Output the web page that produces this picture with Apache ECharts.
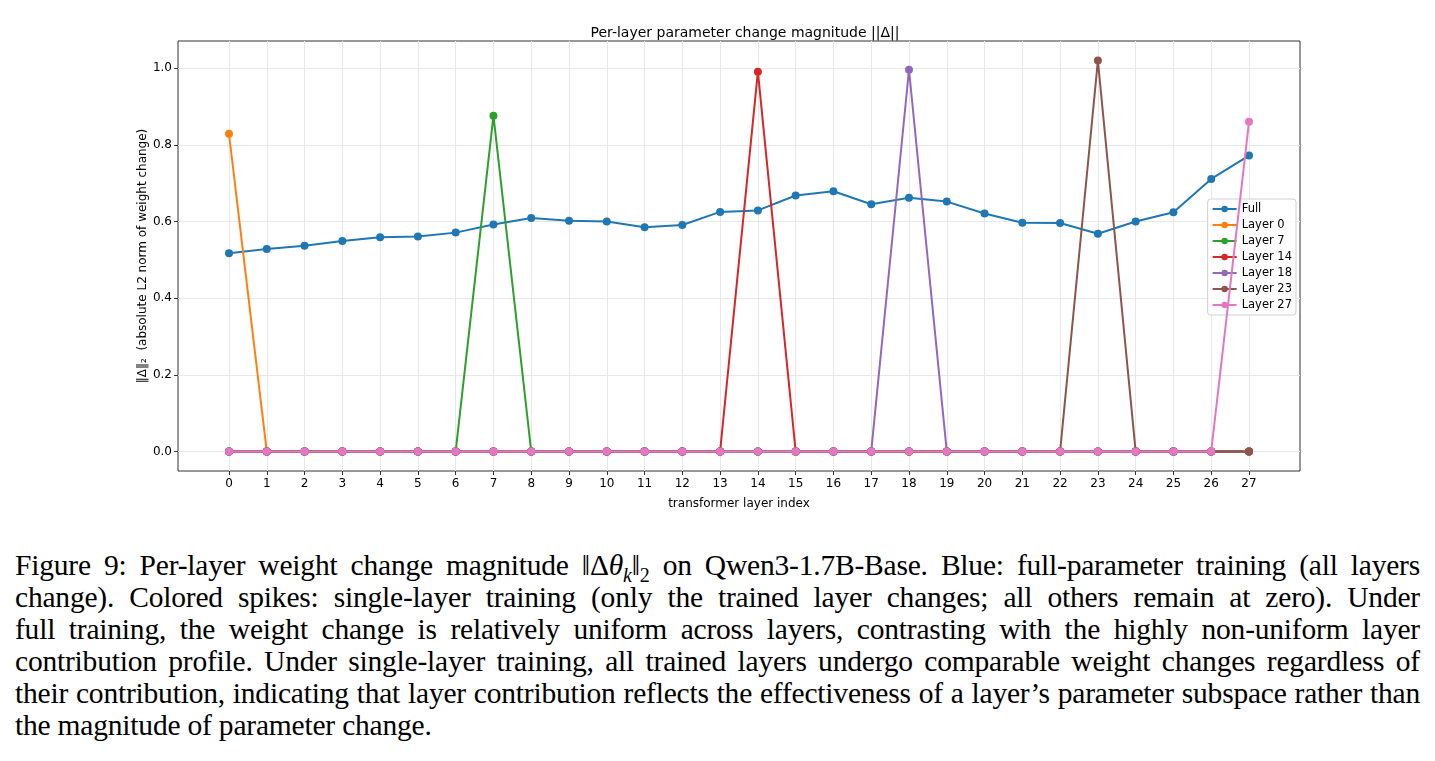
<!DOCTYPE html>
<html>
<head>
<meta charset="utf-8">
<script src="https://cdn.jsdelivr.net/npm/echarts@6/dist/echarts.min.js"></script>
<style>
	body { margin: 0; background: #fff; }
	#chart { position: absolute; left: 0; top: 0; width: 1435px; height: 530px; }
	.caption {
		position: absolute; left: 15px; top: 549px; width: 1405px;
		font-family: "Liberation Serif", "Times New Roman", serif;
		font-size: 29.5px; line-height: 32px; color: #000; letter-spacing: -0.2px;
	}
	.caption .ln { text-align: justify; text-align-last: justify; white-space: nowrap; }
	.caption .ln.last { text-align-last: left; }
	.caption sub { font-size: 20px; line-height: 0; }
</style>
</head>
<body>
<div id="chart"></div>
<div class="caption">
	<div class="ln">Figure 9: Per-layer weight change magnitude ‖Δ<i>θ</i><sub><i>k</i></sub>‖<sub>2</sub> on Qwen3-1.7B-Base. Blue: full-parameter training (all layers</div>
	<div class="ln">change). Colored spikes: single-layer training (only the trained layer changes; all others remain at zero). Under</div>
	<div class="ln">full training, the weight change is relatively uniform across layers, contrasting with the highly non-uniform layer</div>
	<div class="ln">contribution profile. Under single-layer training, all trained layers undergo comparable weight changes regardless of</div>
	<div class="ln">their contribution, indicating that layer contribution reflects the effectiveness of a layer’s parameter subspace rather than</div>
	<div class="ln last">the magnitude of parameter change.</div>
</div>
<script>
	// transformer layer index
	var layers = [0, 1, 2, 3, 4, 5, 6, 7, 8, 9, 10, 11, 12, 13, 14, 15, 16, 17, 18, 19, 20, 21, 22, 23, 24, 25, 26, 27];
	// full-parameter training
	var fullValues = [0.517, 0.528, 0.537, 0.549, 0.559, 0.561, 0.571, 0.592, 0.609, 0.602, 0.600, 0.585, 0.591, 0.625,
		0.629, 0.668, 0.679, 0.645, 0.662, 0.652, 0.621, 0.597, 0.596, 0.568, 0.600, 0.624, 0.711, 0.772];
	// single-layer training
	var layer0Values = [0.829, 0, 0, 0, 0, 0, 0, 0, 0, 0, 0, 0, 0, 0, 0, 0, 0, 0, 0, 0, 0, 0, 0, 0, 0, 0, 0, 0];
	var layer7Values = [0, 0, 0, 0, 0, 0, 0, 0.876, 0, 0, 0, 0, 0, 0, 0, 0, 0, 0, 0, 0, 0, 0, 0, 0, 0, 0, 0, 0];
	var layer14Values = [0, 0, 0, 0, 0, 0, 0, 0, 0, 0, 0, 0, 0, 0, 0.991, 0, 0, 0, 0, 0, 0, 0, 0, 0, 0, 0, 0, 0];
	var layer18Values = [0, 0, 0, 0, 0, 0, 0, 0, 0, 0, 0, 0, 0, 0, 0, 0, 0, 0, 0.996, 0, 0, 0, 0, 0, 0, 0, 0, 0];
	var layer23Values = [0, 0, 0, 0, 0, 0, 0, 0, 0, 0, 0, 0, 0, 0, 0, 0, 0, 0, 0, 0, 0, 0, 0, 1.020, 0, 0, 0, 0];
	var layer27Values = [0, 0, 0, 0, 0, 0, 0, 0, 0, 0, 0, 0, 0, 0, 0, 0, 0, 0, 0, 0, 0, 0, 0, 0, 0, 0, 0, 0.860];
	var yTicks = [0, 0.2, 0.4, 0.6, 0.8, 1.0];

	var seriesNames = ['Full', 'Layer 0', 'Layer 7', 'Layer 14', 'Layer 18', 'Layer 23', 'Layer 27'];
	var seriesValues = [fullValues, layer0Values, layer7Values, layer14Values, layer18Values, layer23Values, layer27Values];
	var colors = ['#1f77b4', '#ff7f0e', '#2ca02c', '#d62728', '#9467bd', '#8c564b', '#e377c2'];

	var font = 'DejaVu Sans';
	var myChart = echarts.init(document.getElementById('chart'));

	var series = seriesNames.map(function (name, i) {
		return {
			name: name,
			type: 'line',
			data: layers.map(function (x, j) { return [x, seriesValues[i][j]]; }),
			symbol: 'circle',
			symbolSize: 8,
			lineStyle: { color: colors[i], width: 2 },
			itemStyle: { color: colors[i] },
			z: 2 + i
		};
	});

	myChart.setOption({
		animation: false,
		title: {
			text: 'Per-layer parameter change magnitude ||Δ||',
			left: 740, top: 21, textAlign: 'center',
			textStyle: { fontFamily: font, fontSize: 14, fontWeight: 'normal', color: '#000' }
		},
		grid: {
			left: 178, top: 41, width: 1122, height: 430,
			show: true, borderColor: '#333', borderWidth: 1, backgroundColor: '#fff'
		},
		legend: {
			orient: 'vertical',
			right: 139, top: 199,
			itemWidth: 24, itemHeight: 8, itemGap: 4,
			padding: [4, 4, 4, 4],
			backgroundColor: 'rgba(255,255,255,0.8)',
			borderColor: '#d0d0d0', borderWidth: 1, borderRadius: 3,
			textStyle: { fontFamily: font, fontSize: 11.5, lineHeight: 12, color: '#000' },
			data: seriesNames
		},
		xAxis: {
			type: 'value',
			min: -1.35, max: 28.35,
			name: 'transformer layer index',
			nameLocation: 'middle', nameGap: 27, nameMoveOverlap: false,
			nameTextStyle: { fontFamily: font, fontSize: 12, color: '#000' },
			axisLine: { show: false, onZero: false },
			axisTick: { show: true, length: 4, customValues: layers, lineStyle: { color: '#333' } },
			axisLabel: { customValues: layers, margin: 7, fontFamily: font, fontSize: 12, color: '#000' },
			splitLine: { show: true, customValues: layers, lineStyle: { color: '#e8e8e8', width: 1 } }
		},
		yAxis: {
			type: 'value',
			min: -0.051, max: 1.071,
			name: '‖Δ‖₂  (absolute L2 norm of weight change)',
			nameLocation: 'middle', nameGap: 29, nameMoveOverlap: false,
			nameTextStyle: { fontFamily: font, fontSize: 12, color: '#000' },
			axisLine: { show: false, onZero: false },
			axisTick: { show: true, length: 4, customValues: yTicks, lineStyle: { color: '#333' } },
			axisLabel: {
				customValues: yTicks, margin: 6, fontFamily: font, fontSize: 12, color: '#000',
				formatter: function (v) { return v.toFixed(1); }
			},
			splitLine: { show: true, customValues: yTicks, lineStyle: { color: '#e8e8e8', width: 1 } }
		},
		series: series
	});
</script>
</body>
</html>
